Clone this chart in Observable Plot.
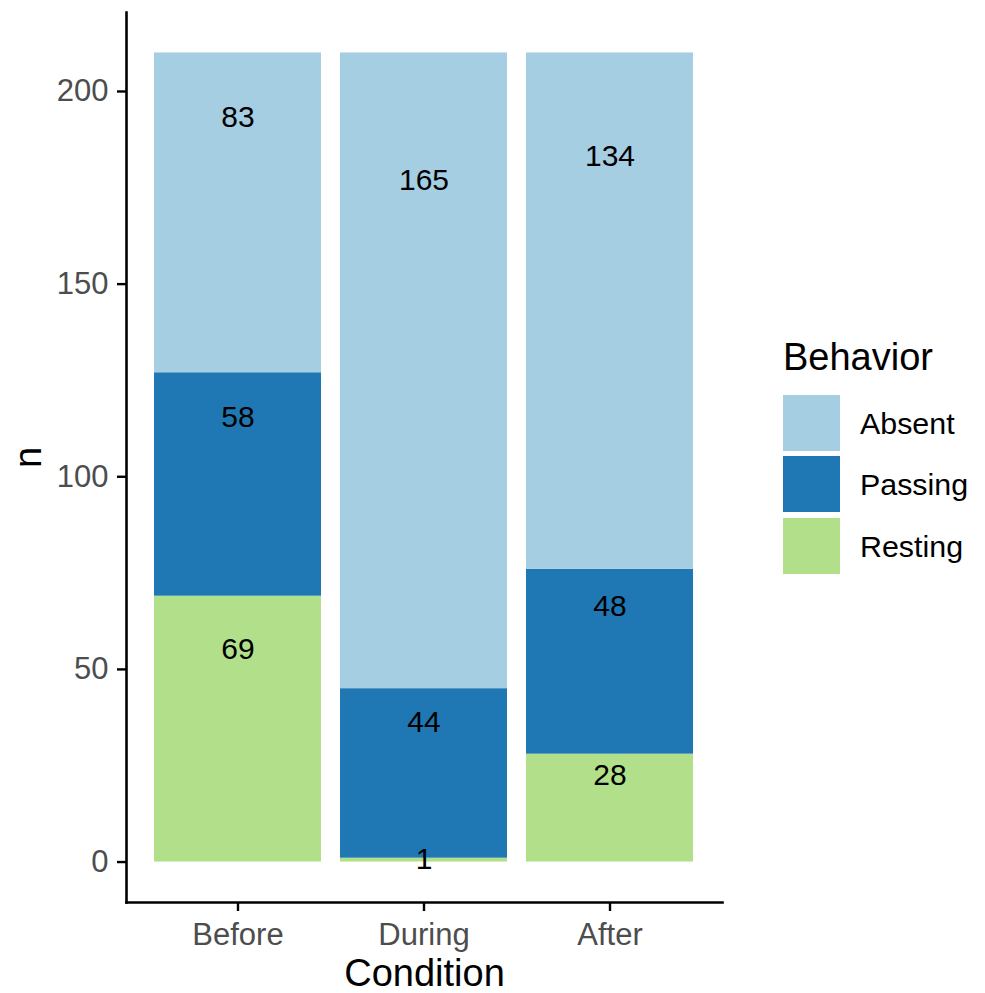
<!DOCTYPE html>
<html>
<head>
<meta charset="utf-8">
<script src="https://cdn.jsdelivr.net/npm/d3@7"></script>
<script src="https://cdn.jsdelivr.net/npm/@observablehq/plot@0.6"></script>
<style>
  html, body { margin: 0; padding: 0; background: #fff; }
  body { font-family: "Liberation Sans", Arial, sans-serif; }
  #wrap { position: relative; width: 985px; height: 993px; }
  #legend { position: absolute; left: 783px; top: 330px; }
  .ltitle { position: absolute; left: 0; top: 0; font-size: 38px; line-height: 54px; color: #000; white-space: nowrap; }
  .lkey { position: absolute; left: 0; width: 57px; height: 56px; }
  .llab { position: absolute; left: 77px; font-size: 30.4px; line-height: 56px; color: #000; white-space: nowrap; }
</style>
</head>
<body>
<div id="wrap"><div id="legend"></div></div>
<script>
const conditions = ["Before", "During", "After"];
const behaviors = ["Absent", "Passing", "Resting"];
const stackOrder = ["Resting", "Passing", "Absent"];
const colors = ["#a6cee3", "#1f78b4", "#b2df8a"];
const absentN = [83, 165, 134];
const passingN = [58, 44, 48];
const restingN = [69, 1, 28];
const yTicks = [0, 50, 100, 150, 200];
const labelVjust = 0.8;

const valuesBy = { Absent: absentN, Passing: passingN, Resting: restingN };
const rows = [];
conditions.forEach((c, i) => {
  let base = 0;
  for (const b of stackOrder) {
    const n = valuesBy[b][i];
    rows.push({ condition: c, behavior: b, n, labelY: base + labelVjust * n });
    base += n;
  }
});

const chart = Plot.plot({
  width: 985,
  height: 993,
  marginLeft: 126,
  marginRight: 263,
  marginTop: 12,
  marginBottom: 91,
  style: { fontFamily: "'Liberation Sans', Arial, sans-serif", background: "#fff" },
  x: { domain: conditions, type: "band", paddingInner: 0.1, paddingOuter: 0.15 },
  y: { domain: [-10.5, 220.5] },
  color: { domain: behaviors, range: colors },
  marks: [
    Plot.barY(rows, { x: "condition", y: "n", fill: "behavior", z: "behavior", order: stackOrder, inset: 0 }),
    Plot.text(rows, { x: "condition", y: "labelY", text: d => String(d.n), fontSize: 30, fill: "#000" }),
    Plot.axisY(yTicks, { tickSize: 9, tickPadding: 9, fontSize: 31, fill: "#4d4d4d", stroke: "#000", strokeWidth: 2.4, label: null }),
    Plot.axisX({ tickSize: 9, tickPadding: 11, fontSize: 31, fill: "#4d4d4d", stroke: "#000", strokeWidth: 2.4, label: null }),
    Plot.frame({ anchor: "left", stroke: "#000", strokeWidth: 2.6 }),
    Plot.frame({ anchor: "bottom", stroke: "#000", strokeWidth: 2.6 }),
    Plot.text(["n"], { frameAnchor: "left", dx: -98, rotate: -90, textAnchor: "middle", lineAnchor: "middle", fontSize: 38, fill: "#000" }),
    Plot.text(["Condition"], { frameAnchor: "bottom", dy: 71, textAnchor: "middle", lineAnchor: "middle", fontSize: 38, fill: "#000" })
  ]
});
document.getElementById("wrap").prepend(chart);

const legend = document.getElementById("legend");
const t = document.createElement("div");
t.className = "ltitle";
t.textContent = "Behavior";
legend.appendChild(t);
const keyTops = [65, 126, 188];
behaviors.forEach((b, i) => {
  const k = document.createElement("div");
  k.className = "lkey";
  k.style.top = keyTops[i] + "px";
  k.style.background = colors[i];
  legend.appendChild(k);
  const l = document.createElement("div");
  l.className = "llab";
  l.style.top = keyTops[i] + "px";
  l.textContent = b;
  legend.appendChild(l);
});
</script>
</body>
</html>
